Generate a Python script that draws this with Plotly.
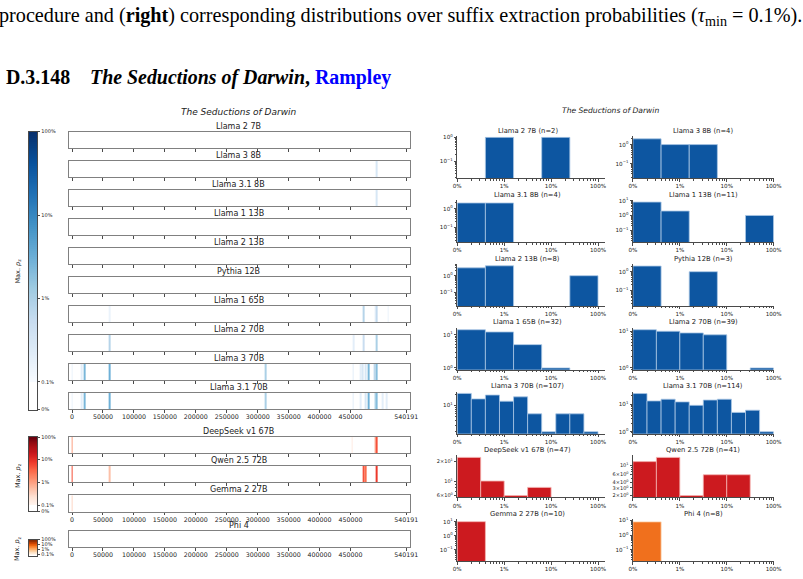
import math
import numpy as np
import plotly.graph_objects as go

W, H = 803, 579

# ---------------------------------------------------------------- data
TEXT_LEN = 540191
strip_xticks = [0, 50000, 100000, 150000, 200000, 250000, 300000, 350000, 400000, 450000, TEXT_LEN]

blue_models = ["Llama 2 7B", "Llama 3 8B", "Llama 3.1 8B", "Llama 1 13B", "Llama 2 13B",
               "Pythia 12B", "Llama 1 65B", "Llama 2 70B", "Llama 3 70B", "Llama 3.1 70B"]
red_models = ["DeepSeek v1 67B", "Qwen 2.5 72B", "Gemma 2 27B"]
orange_models = ["Phi 4"]

# character offsets of extracted suffixes and their max. p_z (fraction)
blue_pos = [
    [],
    [492500],
    [492500],
    [],
    [],
    [],
    [60400, 470900, 490000, 492500, 511000],
    [60400, 455000, 470900, 492500],
    [0, 15900, 20700, 60400, 313000, 454000, 466000, 470000, 474000, 478800, 489400, 492500],
    [0, 15900, 20700, 60400, 313000, 454000, 466000, 474000, 478800, 490000, 492500, 501600, 508500],
]
blue_pz = [
    [],
    [0.003],
    [0.003],
    [],
    [],
    [],
    [0.0015, 0.008, 0.002, 0.006, 0.0015],
    [0.008, 0.002, 0.005, 0.01],
    [0.0015, 0.002, 0.025, 0.03, 0.01, 0.002, 0.002, 0.003, 0.003, 0.025, 0.007, 0.02],
    [0.0015, 0.002, 0.025, 0.03, 0.01, 0.002, 0.002, 0.003, 0.03, 0.015, 0.02, 0.002, 0.002],
]
red_pos = [
    [0, 452800, 490000, 492500],
    [0, 60400, 470900, 474000, 492500],
    [0],
]
red_pz = [
    [0.01, 0.0015, 0.01, 0.05],
    [0.05, 0.005, 0.05, 0.03, 0.08],
    [0.003],
]
orange_pos = [[]]
orange_pz = [[]]

# histograms over suffix extraction probabilities (bins span 0.1% .. 100% on log scale)
hist_models = ["Llama 2 7B", "Llama 3 8B", "Llama 3.1 8B", "Llama 1 13B", "Llama 2 13B", "Pythia 12B",
               "Llama 1 65B", "Llama 2 70B", "Llama 3 70B", "Llama 3.1 70B",
               "DeepSeek v1 67B", "Qwen 2.5 72B", "Gemma 2 27B", "Phi 4"]
hist_n = [2, 4, 4, 11, 8, 3, 32, 39, 107, 114, 47, 41, 10, 8]
hist_counts = [
    [0, 1, 0, 1, 0],
    [2, 1, 1, 0, 0],
    [2, 2, 0, 0, 0],
    [8, 2, 0, 0, 1],
    [3, 4, 0, 0, 1],
    [2, 0, 1, 0, 0],
    [14, 12, 5, 1, 0],
    [11, 10, 9, 8, 0, 1],
    [21, 15, 19, 13, 17, 6, 2, 6, 6, 2],
    [24, 13, 15, 12, 9, 14, 15, 5, 6, 1],
    [23, 10, 6, 8, 0, 0],
    [12, 15, 2, 6, 6, 0],
    [10, 0, 0, 0, 0],
    [8, 0, 0, 0, 0],
]
hist_family = ["blue"] * 10 + ["red"] * 3 + ["orange"]
hist_pct_ticks = ["0%", "1%", "10%", "100%"]

# ---------------------------------------------------------------- styles / layout
BLUES = ['#f7fbff', '#deebf7', '#c6dbef', '#9ecae1', '#6baed6', '#4292c6', '#2171b5', '#08519c', '#08306b']
REDS = ['#fff5f0', '#fee0d2', '#fcbba1', '#fc9272', '#fb6a4a', '#ef3b2c', '#cb181d', '#a50f15', '#67000d']
ORANGES = ['#fff5eb', '#fee6ce', '#fdd0a2', '#fdae6b', '#fd8d3c', '#f16913', '#d94801', '#a63603', '#7f2704']
BAR_COL = {"blue": "#0d56a1", "red": "#cc1a1f", "orange": "#f0701d"}
BAR_EDGE = {"blue": "#a9c6e4", "red": "#f4b3b0", "orange": "#fbcfa8"}

FONT = "DejaVu Sans"
AX = "#4a4a4a"
BOX = "#808080"

hist_yrange = [[-1.716, 0.04], [-1.77, 0.43], [-1.8, 0.45], [-1.8, 1.03], [-1.84, 0.71], [-1.83, 0.41],
               [-0.057, 1.203], [-0.052, 1.093], [0.25, 1.369], [-0.069, 1.449],
               [0.749, 1.391], [0.257, 1.220], [-1.82, 1.17], [-1.79, 1.08]]
hist_ytick = [[0.1, 1], [0.1, 1], [0.1, 1], [0.1, 1, 10], [0.1, 1], [0.1, 1],
              [1, 10], [1, 10], [10], [1, 10], [6, 10, 20], [2, 3, 4, 6, 10], [0.1, 1, 10], [0.1, 1, 10]]


def fx(px):
    return px / W


def fy(py):
    return 1 - py / H


def make_cs(stops, s0):
    cs = [[0.0, '#ffffff'], [s0, '#ffffff']]
    for i, c in enumerate(stops):
        cs.append([s0 + (1 - s0) * i / (len(stops) - 1), c])
    return cs


def s_of_p(p, s0, dec):
    if p < 0.001:
        return s0 * p / 0.001
    return min(1.0, s0 + dec * math.log10(p / 0.001))


layout = {}
traces = []
annotations = []
axis_counter = [0]


def new_axes(xdom, ydom, xcfg, ycfg):
    axis_counter[0] += 1
    k = axis_counter[0]
    sfx = '' if k == 1 else str(k)
    layout['xaxis' + sfx] = dict(domain=xdom, anchor='y' + sfx, showgrid=False, zeroline=False, fixedrange=True, **xcfg)
    layout['yaxis' + sfx] = dict(domain=ydom, anchor='x' + sfx, showgrid=False, zeroline=False, fixedrange=True, **ycfg)
    # placeholder so that the subplot is always drawn
    traces.append(go.Scatter(x=[None], y=[None], xaxis='x' + sfx, yaxis='y' + sfx,
                             showlegend=False, hoverinfo='skip', mode='markers'))
    return 'x' + sfx, 'y' + sfx


def ann(text, x, y, size, xanchor='center', yanchor='middle', family=FONT, color='#222', angle=0):
    annotations.append(dict(text=text, x=fx(x), y=fy(y), xref='paper', yref='paper', showarrow=False,
                            xanchor=xanchor, yanchor=yanchor, textangle=angle,
                            font=dict(family=family, size=size, color=color)))


# ---------------------------------------------------------------- left panel: strips
STRIP_X0, STRIP_X1, STRIP_H = 65.7, 412.3, 16.5
blue_tops = [129.3 + 29.38 * i for i in range(10)]
red_tops = [438.3, 467.7, 497.3]
orange_tops = [533.3]

groups = [
    (blue_models, blue_pos, blue_pz, blue_tops, BLUES, 0.1, 0.3),
    (red_models, red_pos, red_pz, red_tops, REDS, 0.08, 0.92 / 3),
    (orange_models, orange_pos, orange_pz, orange_tops, ORANGES, 0.08, 0.92 / 3),
]

for models, poss, pzs, tops, stops, s0, dec in groups:
    cs = make_cs(stops, s0)
    for i, (name, pos, pz, top) in enumerate(zip(models, poss, pzs, tops)):
        last = (i == len(models) - 1)
        xa, ya = new_axes(
            [fx(STRIP_X0), fx(STRIP_X1)], [fy(top + STRIP_H), fy(top)],
            dict(range=[-5500, 545500], showline=True, mirror=True, linecolor=BOX, linewidth=1,
                 ticks='outside', ticklen=2.5, tickwidth=0.8, tickcolor=AX, ticklabelstandoff=-1,
                 tickvals=strip_xticks, ticktext=[str(v) for v in strip_xticks],
                 showticklabels=last, tickfont=dict(family=FONT, size=6.3, color='#222')),
            dict(range=[0, 1], showline=True, mirror=True, linecolor=BOX, linewidth=1,
                 showticklabels=False, ticks=''))
        if pos:
            traces.append(go.Bar(x=pos, y=[1] * len(pos), base=0, width=1000,
                                 marker=dict(color=[s_of_p(p, s0, dec) for p in pz], colorscale=cs,
                                             cmin=0, cmax=1, line=dict(width=0)),
                                 xaxis=xa, yaxis=ya, showlegend=False, hoverinfo='skip'))
        ann(name, (STRIP_X0 + STRIP_X1) / 2 - 0.5, top - 5.6, 8)

# colorbars (drawn as stacked, overlapping colour segments)
cbars = [
    (BLUES, 0.1, 0.3, 129.3, 410.7, ['0%', '0.1%', '1%', '10%', '100%'], True, 270, 140),
    (REDS, 0.08, 0.92 / 3, 438.3, 513.3, ['0%', '0.1%', '1%', '10%', '100%'], True, 477, 60),
    (ORANGES, 0.08, 0.92 / 3, 542.3, 558.3, ['0.1%', '1%', '10%', '100%'], False, 551, 24),
]
for stops, s0, dec, ytop, ybot, labels, with_zero, ylab, nseg in cbars:
    cs = make_cs(stops, s0)
    edges = np.linspace(0, 1, nseg + 1)
    mids = (edges[:-1] + edges[1:]) / 2
    tv = ([0.0] if with_zero else []) + [s0, s0 + dec, s0 + 2 * dec, 1.0]
    xa, ya = new_axes(
        [fx(25), fx(34)], [fy(ybot), fy(ytop)],
        dict(range=[-0.5, 0.5], showline=True, mirror=True, linecolor=AX, linewidth=0.8,
             showticklabels=False, ticks=''),
        dict(range=[0, 1], side='right', showline=True, mirror=True, linecolor=AX, linewidth=0.8,
             ticks='outside', ticklen=2, tickwidth=0.6, tickcolor=AX,
             tickvals=tv, ticktext=labels, tickfont=dict(family=FONT, size=5, color='#222')))
    heights = np.minimum(np.diff(edges) * 2.5, 1 - edges[:-1])
    traces.append(go.Bar(x=[0] * nseg, base=edges[:-1], y=heights, width=1.0,
                         marker=dict(color=mids, colorscale=cs, cmin=0, cmax=1, line=dict(width=0)),
                         xaxis=xa, yaxis=ya, showlegend=False, hoverinfo='skip'))
    ann("Max. <i>p</i><sub>z</sub>", 14, ylab, 6.5, angle=-90)

ann("<i>The Seductions of Darwin</i>", 238.5, 109, 9)

# ---------------------------------------------------------------- right panel: histograms
COL_X = [(460.7, 610.7, 3.145), (639.3, 782.3, 3.0)]
COL_TITLE_X = [532.3, 710.8]
ROW_BOTTOM = [176.5 + 64.6 * r for r in range(7)]
HIST_H = 42.5
xminor = [j + math.log10(k) for j in range(3) for k in range(2, 10)]


def fmt_tick(v):
    e = int(math.floor(math.log10(v) + 1e-9))
    m = round(v / 10 ** e)
    es = str(e).replace('-', '\u2212')
    if m == 1:
        return "10<sup>%s</sup>" % es
    return "%d\u00d710<sup>%s</sup>" % (m, es)


for idx, name in enumerate(hist_models):
    r, c = divmod(idx, 2)
    x0, x1, xr = COL_X[c]
    bot = ROW_BOTTOM[r]
    top = bot - HIST_H
    lo, hi = hist_yrange[idx]
    yminor = [k * 10 ** d for d in range(int(math.floor(lo)), int(math.ceil(hi)) + 1)
              for k in range(2, 10) if lo <= math.log10(k * 10 ** d) <= hi]
    fam = hist_family[idx]
    xa, ya = new_axes(
        [fx(x0), fx(x1)], [fy(bot), fy(top)],
        dict(range=[0, xr], showline=True, linecolor=AX, linewidth=0.8,
             ticks='outside', ticklen=2.5, tickwidth=0.7, tickcolor=AX,
             tickvals=[0, 1, 2, 3], ticktext=hist_pct_ticks,
             tickfont=dict(family=FONT, size=5.6, color='#222'),
             minor=dict(tickmode='array', tickvals=xminor, ticks='outside', ticklen=1.5,
                        tickwidth=0.6, tickcolor=AX)),
        dict(type='log', range=[lo, hi], showline=True, linecolor=AX, linewidth=0.8,
             ticks='outside', ticklen=2.5, tickwidth=0.7, tickcolor=AX,
             tickvals=hist_ytick[idx], ticktext=[fmt_tick(v) for v in hist_ytick[idx]],
             tickfont=dict(family=FONT, size=5 if idx in (10, 11) else 5.6, color='#222'),
             minor=dict(tickmode='array', tickvals=yminor, ticks='outside', ticklen=1.5,
                        tickwidth=0.6, tickcolor=AX)))
    counts = hist_counts[idx]
    nb = len(counts)
    bw = 3.0 / nb
    centers = [bw * (i + 0.5) for i in range(nb)]
    traces.append(go.Bar(x=centers, y=[v if v > 0 else None for v in counts], width=bw,
                         marker=dict(color=BAR_COL[fam], line=dict(color=BAR_EDGE[fam], width=0.8)),
                         xaxis=xa, yaxis=ya, showlegend=False, hoverinfo='skip'))
    ann("%s (n=%d)" % (name, hist_n[idx]), COL_TITLE_X[c], top - 5.5, 6.8)

ann("<i>The Seductions of Darwin</i>", 616.7, 107.3, 7.6)

# ---------------------------------------------------------------- page text
ann("procedure and (<b>right</b>) corresponding distributions over suffix extraction probabilities "
    "(<i>\u03c4</i><sub>min</sub> = 0.1%).", -7, 13, 20.2, xanchor='left', family="Liberation Serif", color='#000')
ann("<b>D.3.148</b>", 0, 74, 19.9, xanchor='left', family="Liberation Serif", color='#000')
ann("<b><i>The Seductions of Darwin</i>, <span style='color:#0000ff'>Rampley</span></b>", 85, 74, 19.9,
    xanchor='left', family="Liberation Serif", color='#000')

fig = go.Figure(data=traces)
fig.update_layout(width=W, height=H, margin=dict(l=0, r=0, t=0, b=0), autosize=False,
                  paper_bgcolor='white', plot_bgcolor='white', annotations=annotations,
                  barmode='overlay', **layout)
fig.write_html("out.html")
